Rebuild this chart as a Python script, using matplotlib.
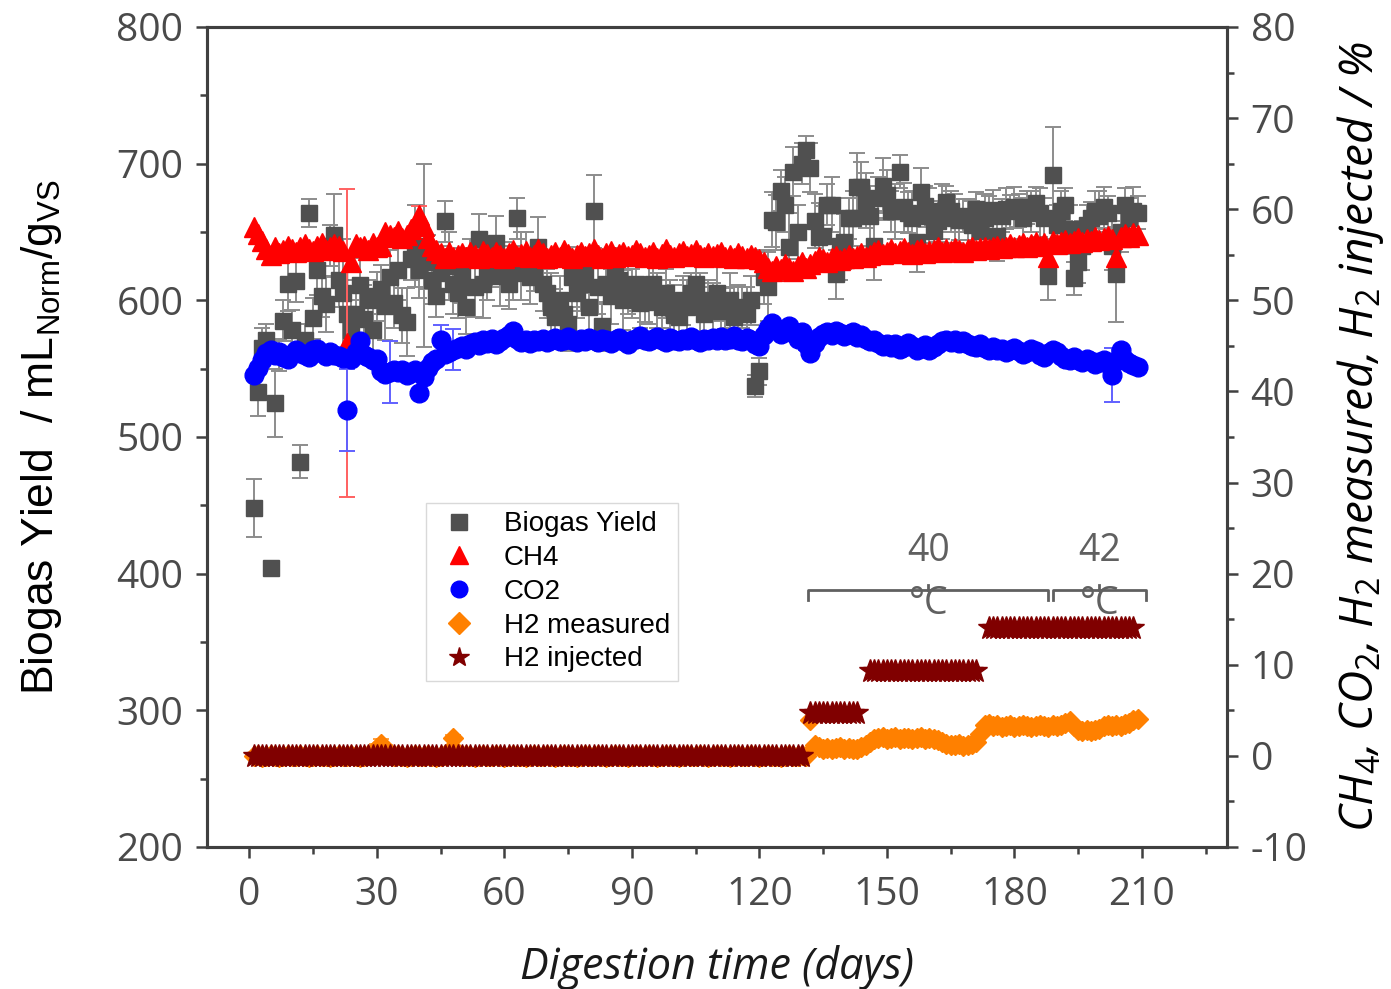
import numpy as np
import matplotlib
matplotlib.use("Agg")
import matplotlib.pyplot as plt
from matplotlib.lines import Line2D
from matplotlib.ticker import MultipleLocator

plt.rcParams['font.family'] = ['Liberation Sans', 'DejaVu Sans']
plt.rcParams['mathtext.fontset'] = 'custom'
plt.rcParams['mathtext.rm'] = 'Open Sans'
plt.rcParams['mathtext.it'] = 'Open Sans:italic'
plt.rcParams['axes.unicode_minus'] = False

# ---- data, one value per day, days 1..209 ----
biogas = [448, 533, 565, 571, 404, 525, 560, 585, 612, 578,
          614, 482, 571, 664, 587, 622, 603, 597, 640, 648,
          615, 605, 590, 578, 590, 611, 586, 600, 578, 603,
          608, 596, 617, 598, 622, 589, 584, 630, 640, 622,
          633, 628, 615, 603, 620, 658, 625, 612, 605, 618,
          595, 630, 610, 645, 612, 620, 625, 642, 618, 628,
          612, 620, 660, 625, 632, 617, 622, 639, 612, 605,
          595, 588, 600, 590, 583, 617, 605, 612, 620, 595,
          665, 610, 581, 612, 603, 620, 615, 600, 610, 605,
          612, 598, 599, 605, 612, 600, 595, 605, 595, 589,
          588, 600, 595, 605, 612, 598, 590, 600, 595, 605,
          592, 594, 600, 588, 593, 595, 590, 600, 537, 548,
          617, 610, 659, 657, 680, 670, 639, 694, 650, 700,
          710, 697, 658, 646, 647, 670, 670, 619, 640, 643,
          660, 660, 683, 683, 673, 662, 640, 675, 684, 677,
          665, 665, 694, 668, 664, 660, 643, 679, 669, 662,
          651, 658, 665, 672, 665, 660, 659, 662, 659, 655,
          667, 651, 660, 664, 666, 647, 662, 667, 665, 668,
          666, 660, 668, 665, 671, 664, 660, 618, 692, 655,
          665, 670, 652, 616, 628, 640, 655, 660, 665, 662,
          668, 664, 640, 619, 650, 670, 660, 665, 664]

biogas_err = [21, 18, 15, 12, 4, 25, 12, 15, 20, 15,
              15, 12, 12, 10, 15, 18, 15, 20, 15, 30,
              20, 40, 25, 22, 25, 20, 25, 15, 20, 18,
              18, 25, 20, 18, 22, 20, 25, 15, 30, 20,
              67, 20, 18, 15, 20, 15, 25, 22, 18, 20,
              20, 15, 22, 18, 25, 20, 15, 20, 22, 15,
              18, 20, 15, 25, 18, 20, 15, 22, 20, 18,
              25, 20, 18, 15, 20, 22, 18, 20, 15, 18,
              27, 20, 18, 15, 20, 18, 15, 22, 20, 18,
              20, 18, 15, 22, 18, 20, 15, 18, 20, 22,
              15, 18, 20, 15, 18, 22, 20, 15, 18, 20,
              18, 15, 20, 22, 18, 15, 20, 18, 8, 10,
              20, 25, 20, 20, 15, 20, 25, 18, 20, 15,
              10, 18, 20, 25, 22, 15, 20, 18, 25, 20,
              15, 20, 25, 18, 20, 22, 25, 15, 20, 18,
              15, 20, 12, 18, 15, 20, 22, 18, 15, 20,
              18, 15, 20, 12, 15, 18, 15, 12, 15, 18,
              12, 15, 18, 12, 15, 18, 12, 15, 12, 15,
              12, 15, 12, 15, 12, 18, 15, 18, 35, 15,
              15, 12, 18, 12, 15, 18, 15, 12, 15, 18,
              15, 12, 18, 35, 15, 12, 15, 18, 12]

ch4 = [58.0, 57.3, 56.5, 55.6, 55.0, 55.8, 55.2, 55.5, 56.0, 55.6,
       55.3, 55.8, 56.2, 55.6, 55.4, 56.0, 56.3, 55.5, 55.8, 56.2,
       56.0, 55.4, 45.3, 54.2, 56.2, 55.8, 56.0, 55.5, 56.3, 55.8,
       56.0, 57.5, 57.2, 57.0, 57.6, 56.8, 57.2, 57.8, 58.3, 59.4,
       58.2, 56.8, 56.0, 55.5, 55.2, 54.6, 55.3, 54.8, 55.0, 55.2,
       54.8, 55.3, 55.0, 54.7, 55.4, 55.1, 54.8, 55.3, 55.0, 54.6,
       55.2, 55.5, 54.9, 55.1, 55.4, 54.8, 55.0, 55.6, 55.2, 54.7,
       55.0, 55.3, 54.8, 55.5, 55.1, 54.6, 55.0, 55.3, 54.9, 55.2,
       55.6, 55.0, 54.7, 55.2, 55.4, 54.8, 55.1, 55.3, 54.9, 55.0,
       55.5, 55.2, 54.8, 55.0, 55.3, 54.7, 55.1, 55.6, 55.0, 54.8,
       55.2, 55.4, 54.9, 55.1, 55.5, 55.0, 54.8, 55.2, 54.9, 55.1,
       55.3, 54.8, 55.0, 54.7, 55.2, 54.9, 54.6, 55.0, 54.8, 54.5,
       54.2, 53.6, 53.2, 53.8, 53.4, 54.0, 53.5, 53.2, 53.8, 54.2,
       53.5, 54.0, 54.3, 54.8, 54.5, 54.2, 54.6, 54.9, 54.4, 54.7,
       55.0, 54.6, 54.9, 55.2, 54.8, 55.0, 55.3, 55.5, 55.1, 55.3,
       55.6, 55.2, 55.4, 55.7, 55.3, 55.1, 55.5, 55.6, 55.2, 55.4,
       55.5, 55.8, 55.3, 55.6, 55.4, 55.7, 55.5, 55.3, 55.6, 55.8,
       55.5, 55.7, 55.9, 55.6, 55.8, 56.0, 55.7, 55.9, 56.2, 55.8,
       56.1, 56.3, 55.9, 56.2, 56.4, 56.0, 56.3, 54.8, 56.5, 56.2,
       56.4, 56.6, 56.3, 56.5, 56.8, 56.4, 56.7, 56.5, 56.9, 56.6,
       56.8, 57.1, 56.7, 54.8, 57.0, 57.3, 56.9, 57.4, 57.2]

co2 = [41.8, 42.6, 43.5, 44.2, 44.6, 44.0, 44.3, 43.8, 43.6, 44.1,
       44.6, 44.2, 44.0, 43.8, 44.5, 44.7, 44.2, 43.9, 44.3, 44.0,
       43.9, 43.7, 38.0, 43.6, 44.3, 45.5, 44.0, 43.8, 43.5, 43.6,
       42.2, 41.9, 42.1, 42.4, 42.1, 42.3, 41.8, 42.0, 42.4, 39.8,
       41.6, 42.6, 43.2, 43.6, 45.6, 44.1, 44.3, 44.6, 44.8, 45.0,
       44.7, 45.2, 45.4, 45.1, 45.6, 45.3, 45.8, 45.2, 45.5, 45.9,
       46.2, 46.6, 45.8, 45.4, 45.6, 45.3, 45.7, 45.5, 45.8, 45.4,
       45.6, 45.9, 45.5, 45.7, 46.0, 45.6, 45.4, 45.8, 45.5, 45.9,
       45.7, 45.4, 45.8, 45.6, 45.3, 45.6, 45.9, 45.5, 45.2, 45.6,
       45.8, 46.1, 45.7, 45.5, 45.8, 46.0, 45.6, 45.4, 45.9, 45.7,
       45.5, 45.8, 45.6, 46.0, 45.7, 45.4, 45.8, 45.6, 45.9, 45.7,
       46.0, 45.6, 45.8, 46.1, 45.7, 45.5, 45.9, 45.6, 45.2, 45.0,
       46.2, 47.0, 47.5, 46.8, 46.3, 46.9, 47.2, 46.4, 45.8, 46.5,
       45.2, 44.2, 45.3, 46.0, 46.3, 46.5, 46.2, 46.6, 46.4, 46.1,
       46.3, 46.5, 46.0, 46.2, 45.8, 45.5, 45.7, 45.3, 45.0, 45.2,
       44.9, 45.2, 44.7, 44.9, 45.3, 45.0, 44.6, 44.8, 45.1, 44.6,
       44.9, 45.2, 45.5, 45.7, 45.4, 45.6, 45.3, 45.5, 45.2, 45.0,
       44.9, 45.2, 44.8, 44.6, 44.9, 44.5, 44.7, 44.3, 44.5, 44.8,
       44.4, 44.1, 44.3, 44.7, 44.4, 44.0, 43.8, 44.2, 44.6, 44.3,
       43.9, 43.6, 43.4, 43.8, 43.5, 43.2, 43.6, 43.3, 43.0, 43.2,
       43.4, 43.0, 41.8, 43.3, 44.6, 43.4, 43.1, 42.9, 42.7]

h2_meas = [0.0, 0.1, -0.1, 0.0, 0.1, 0.0, -0.1, 0.0, 0.1, 0.0,
           0.0, 0.1, 0.0, -0.1, 0.0, 0.1, 0.0, 0.0, -0.1, 0.0,
           0.1, 0.0, 0.0, 0.1, 0.0, -0.1, 0.0, 0.1, 0.3, 0.9,
           1.3, 0.8, 0.2, 0.0, 0.1, 0.0, -0.1, 0.0, 0.1, 0.0,
           0.0, 0.1, 0.0, -0.1, 0.0, 0.1, 0.5, 2.0, 0.3, 0.0,
           0.1, 0.0, -0.1, 0.0, 0.1, 0.0, 0.0, 0.1, 0.0, -0.1,
           0.0, 0.1, 0.0, 0.0, -0.1, 0.0, 0.1, 0.0, 0.0, 0.1,
           0.0, -0.1, 0.0, 0.1, 0.0, 0.0, -0.1, 0.0, 0.1, 0.0,
           0.0, 0.1, 0.0, -0.1, 0.0, 0.1, 0.0, 0.0, -0.1, 0.0,
           0.1, 0.0, 0.0, 0.1, 0.0, -0.1, 0.0, 0.1, 0.0, 0.0,
           -0.1, 0.0, 0.1, 0.0, 0.0, 0.1, 0.0, -0.1, 0.0, 0.1,
           0.0, 0.0, -0.1, 0.0, 0.1, 0.0, 0.0, 0.1, 0.0, -0.1,
           0.0, 0.1, 0.0, 0.0, -0.1, 0.0, 0.1, 0.0, 0.0, 0.1,
           0.0, 3.9, 1.2, 1.0, 0.8, 0.9, 0.7, 0.9, 1.0, 0.8,
           0.9, 0.7, 0.8, 1.0, 1.2, 1.5, 1.8, 2.0, 2.1, 1.9,
           2.0, 2.1, 1.9, 2.0, 2.0, 1.8, 2.0, 2.1, 1.9, 2.0,
           1.8, 1.7, 1.5, 1.3, 1.2, 1.2, 1.3, 1.1, 1.2, 1.3,
           1.5, 2.4, 3.4, 3.5, 3.3, 3.4, 3.2, 3.3, 3.4, 3.2,
           3.3, 3.4, 3.3, 3.2, 3.3, 3.4, 3.3, 3.2, 3.4, 3.3,
           3.4, 3.6, 3.8, 3.3, 2.8, 2.7, 2.8, 2.7, 2.8, 3.0,
           3.3, 3.4, 3.3, 3.4, 3.3, 3.5, 3.6, 3.9, 4.1]

# H2 injected: constant steps (start day, end day, level %)
h2_inj_start = [1, 132, 146, 174]
h2_inj_end = [130, 143, 171, 208]
h2_inj_level = [0.0, 4.7, 9.3, 14.0]

# points with visible error bars on the % axis
ch4_err_days = [23, 40]
ch4_err = [16.9, 1.0]
co2_err_days = [23, 33, 45, 48, 131, 203]
co2_err = [4.5, 3.4, 1.7, 2.2, 0.7, 3.0]
h2_err_days = [30, 31, 32, 48, 194, 208]
h2_err = [0.4, 0.5, 0.4, 0.3, 0.4, 0.4]

# temperature periods
temp_labels = ['40', '42']
temp_start = [131.5, 189.0]
temp_end = [188.0, 211.0]

days = np.arange(1, len(biogas) + 1)
ch4_a = np.array(ch4)
co2_a = np.array(co2)
h2_a = np.array(h2_meas)

fig = plt.figure(figsize=(13.91, 9.89), dpi=100)
ax1 = fig.add_axes([0.1488, 0.1436, 0.7333, 0.8291])
ax2 = ax1.twinx()

ax1.errorbar(days, biogas, yerr=biogas_err, fmt='s', ms=11.5, color='#505050',
             mec='#505050', ecolor='#8c8c8c', elinewidth=1.4, capsize=6,
             capthick=1.4, zorder=3)

# error bars on % axis
idx = np.array(ch4_err_days) - 1
ax2.errorbar(ch4_err_days, ch4_a[idx], yerr=ch4_err, fmt='none', ecolor='#ff6060',
             elinewidth=1.4, capsize=6, capthick=1.4)
idx = np.array(co2_err_days) - 1
ax2.errorbar(co2_err_days, co2_a[idx], yerr=co2_err, fmt='none', ecolor='#6060ff',
             elinewidth=1.4, capsize=6, capthick=1.4)
idx = np.array(h2_err_days) - 1
ax2.errorbar(h2_err_days, h2_a[idx], yerr=h2_err, fmt='none', ecolor='#ffa040',
             elinewidth=1.4, capsize=6, capthick=1.4)

ax2.plot(days, ch4, '^', ms=15, color='#ff0000', mec='#ff0000', ls='none')
ax2.plot(days, co2, 'o', ms=13.5, color='#0000ff', mec='#0000ff', ls='none')
ax2.plot(days, h2_meas, 'D', ms=10, color='#ff8000', mec='#ff8000', ls='none')
for s, e, lv in zip(h2_inj_start, h2_inj_end, h2_inj_level):
    d = np.arange(s, e + 1)
    ax2.plot(d, np.full(len(d), lv), '*', ms=17, color='#800000', mec='#800000', ls='none')

# temperature brackets
for lab, s, e in zip(temp_labels, temp_start, temp_end):
    m = (s + e) / 2
    ax2.plot([s, s, e, e], [17.1, 18.2, 18.2, 17.1], color='#606060', lw=2, solid_joinstyle='round')
    ax2.plot([m, m], [18.2, 18.8], color='#606060', lw=2)
    ax2.text(m, 22.5, lab, ha='center', va='center', fontsize=27, color='#606060',
             family='Open Sans')
    ax2.text(m, 16.7, '°C', ha='center', va='center', fontsize=27, color='#606060',
             family='Open Sans')

ax1.set_xlim(-10, 230)
ax1.set_ylim(200, 800)
ax2.set_ylim(-10, 80)
ax1.xaxis.set_major_locator(MultipleLocator(30))
ax1.xaxis.set_minor_locator(MultipleLocator(15))
ax1.yaxis.set_major_locator(MultipleLocator(100))
ax1.yaxis.set_minor_locator(MultipleLocator(50))
ax2.yaxis.set_major_locator(MultipleLocator(10))
ax2.yaxis.set_minor_locator(MultipleLocator(5))

spine_c = '#404040'
for ax in (ax1, ax2):
    for sp in ax.spines.values():
        sp.set_color(spine_c)
        sp.set_linewidth(2.2)
    ax.tick_params(which='major', length=8, width=1.8, color=spine_c, pad=9,
                   labelsize=28, labelcolor='#4a4a4a', direction='out')
    ax.tick_params(which='minor', length=5, width=1.8, color=spine_c, direction='out')
    for lab in ax.get_xticklabels() + ax.get_yticklabels():
        lab.set_family('Open Sans')
ax1.tick_params(axis='x', which='major', pad=13)

ax1.set_xlabel('Digestion time (days)', fontsize=31, style='italic', color='#1a1a1a',
               labelpad=22, family='Open Sans')
ax1.set_ylabel('Biogas Yield  / mL$_\\mathregular{Norm}$/g$_\\mathregular{VS}$',
               fontsize=32, labelpad=38)
ax2.set_ylabel('CH$_4$, CO$_2$, H$_2$ measured, H$_2$ injected / %', fontsize=33,
               style='italic', labelpad=20, family='Open Sans')

handles = [
    Line2D([], [], marker='s', ls='none', color='#505050', ms=11),
    Line2D([], [], marker='^', ls='none', color='#ff0000', ms=13),
    Line2D([], [], marker='o', ls='none', color='#0000ff', ms=12),
    Line2D([], [], marker='D', ls='none', color='#ff8000', ms=11),
    Line2D([], [], marker='*', ls='none', color='#800000', ms=15),
]
labels = ['Biogas Yield', 'CH4', 'CO2', 'H2 measured', 'H2 injected']
leg = ax1.legend(handles, labels, loc='upper left', bbox_to_anchor=(0.2147, 0.4195),
                 fontsize=20, frameon=True, fancybox=False, borderpad=0.3,
                 labelspacing=0.28, handletextpad=0.7, handlelength=1.8, borderaxespad=0)
leg.get_frame().set_edgecolor('#d0d0d0')
leg.get_frame().set_linewidth(1.0)
leg.set_zorder(10)

fig.savefig('out.png', dpi=100)
